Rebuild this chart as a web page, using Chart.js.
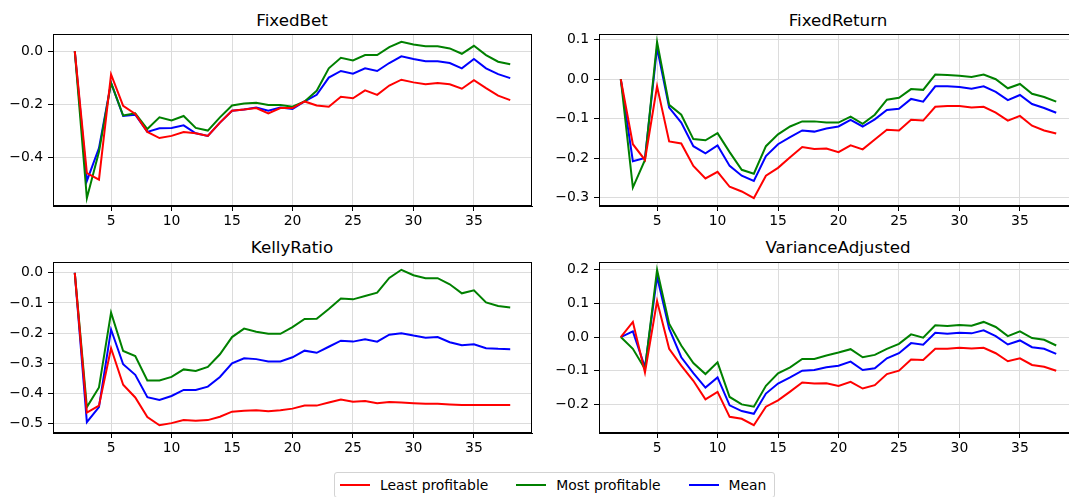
<!DOCTYPE html>
<html>
<head>
<meta charset="utf-8">
<script src="https://cdn.jsdelivr.net/npm/chart.js@4.4.1/dist/chart.umd.min.js"></script>
<style>
  html, body { margin: 0; padding: 0; background: #fff; }
  body { width: 1069px; height: 497px; overflow: hidden; position: relative; font-family: "DejaVu Sans", sans-serif; color: #000; }
  canvas { position: absolute; }
  .title { position: absolute; font-size: 16.7px; line-height: 20px; white-space: nowrap; transform: translateX(-50%); }
  #legend { position: absolute; left: 334px; top: 472px; width: 441px; height: 26px; border: 1px solid #d3d3d3; border-radius: 3px;
            display: flex; align-items: center; font-size: 13.9px; box-sizing: border-box; padding-left: 5px; }
  #legend .h { width: 30px; height: 2px; margin-right: 10px; }
  #legend .t { margin-right: 28px; white-space: nowrap; }
</style>
</head>
<body>
<div class="title" style="left:292px; top:10px;">FixedBet</div>
<div class="title" style="left:838px; top:10px;">FixedReturn</div>
<div class="title" style="left:292px; top:237px;">KellyRatio</div>
<div class="title" style="left:838px; top:237px;">VarianceAdjusted</div>

<canvas id="fixedBet"></canvas>
<canvas id="fixedReturn"></canvas>
<canvas id="kellyRatio"></canvas>
<canvas id="varianceAdjusted"></canvas>

<div id="legend">
  <span class="h" style="background:#ff0000"></span><span class="t">Least profitable</span>
  <span class="h" style="background:#008000"></span><span class="t">Most profitable</span>
  <span class="h" style="background:#0000ff"></span><span class="t" style="margin-right:0">Mean</span>
</div>

<script>
// === DATA ===
const steps = [2, 3, 4, 5, 6, 7, 8, 9, 10, 11, 12, 13, 14, 15, 16, 17, 18, 19, 20,
  21, 22, 23, 24, 25, 26, 27, 28, 29, 30, 31, 32, 33, 34, 35, 36, 37, 38];
const xTicks = [5, 10, 15, 20, 25, 30, 35];

const fixedBetLeast = [0, -0.46, -0.485, -0.088, -0.207, -0.237, -0.305, -0.328, -0.32, -0.305,
  -0.31, -0.32, -0.27, -0.225, -0.22, -0.215, -0.235, -0.215, -0.215, -0.19,
  -0.205, -0.21, -0.172, -0.178, -0.148, -0.165, -0.13, -0.108, -0.118, -0.125,
  -0.12, -0.125, -0.142, -0.11, -0.14, -0.168, -0.185];
const fixedBetMost = [0, -0.555, -0.38, -0.12, -0.243, -0.235, -0.294, -0.25, -0.262, -0.245,
  -0.29, -0.30, -0.25, -0.205, -0.198, -0.195, -0.203, -0.203, -0.21, -0.19,
  -0.15, -0.065, -0.025, -0.035, -0.015, -0.015, 0.015, 0.035, 0.025, 0.018,
  0.018, 0.01, -0.01, 0.02, -0.015, -0.04, -0.05];
const fixedBetMean = [0, -0.49, -0.366, -0.12, -0.245, -0.24, -0.305, -0.291, -0.29, -0.28,
  -0.31, -0.32, -0.27, -0.225, -0.22, -0.213, -0.225, -0.213, -0.218, -0.19,
  -0.165, -0.10, -0.075, -0.085, -0.065, -0.075, -0.045, -0.02, -0.03, -0.038,
  -0.038, -0.045, -0.065, -0.03, -0.065, -0.087, -0.102];
const fixedBetTicks = [-0.4, -0.2, 0.0];

const fixedReturnLeast = [0, -0.165, -0.205, -0.018, -0.158, -0.163, -0.22, -0.252, -0.235, -0.273,
  -0.285, -0.302, -0.245, -0.225, -0.198, -0.172, -0.177, -0.176, -0.185, -0.168,
  -0.178, -0.153, -0.128, -0.13, -0.103, -0.105, -0.07, -0.068, -0.068, -0.072,
  -0.07, -0.085, -0.105, -0.093, -0.118, -0.13, -0.138];
const fixedReturnMost = [0, -0.275, -0.205, 0.095, -0.065, -0.09, -0.152, -0.155, -0.137, -0.185,
  -0.23, -0.24, -0.17, -0.14, -0.12, -0.107, -0.107, -0.11, -0.11, -0.095,
  -0.113, -0.09, -0.052, -0.047, -0.025, -0.027, 0.012, 0.011, 0.009, 0.006,
  0.012, 0.0, -0.023, -0.012, -0.037, -0.045, -0.057];
const fixedReturnMean = [0, -0.208, -0.2, 0.08, -0.072, -0.11, -0.17, -0.188, -0.168, -0.22,
  -0.245, -0.258, -0.195, -0.165, -0.147, -0.13, -0.133, -0.125, -0.12, -0.103,
  -0.12, -0.102, -0.078, -0.075, -0.05, -0.057, -0.018, -0.018, -0.02, -0.024,
  -0.018, -0.032, -0.053, -0.04, -0.063, -0.073, -0.085];
const fixedReturnTicks = [-0.3, -0.2, -0.1, 0.0, 0.1];

const kellyLeast = [0, -0.463, -0.44, -0.25, -0.371, -0.413, -0.478, -0.505, -0.498, -0.488,
  -0.49, -0.488, -0.477, -0.46, -0.457, -0.455, -0.459, -0.455, -0.45, -0.44,
  -0.44, -0.43, -0.42, -0.427, -0.425, -0.432, -0.428, -0.43, -0.432, -0.434,
  -0.434, -0.436, -0.438, -0.438, -0.438, -0.438, -0.438];
const kellyMost = [0, -0.445, -0.38, -0.132, -0.259, -0.276, -0.357, -0.357, -0.345, -0.32,
  -0.325, -0.312, -0.27, -0.213, -0.185, -0.195, -0.202, -0.202, -0.18, -0.153,
  -0.152, -0.12, -0.085, -0.088, -0.077, -0.066, -0.017, 0.01, -0.008, -0.018,
  -0.018, -0.038, -0.068, -0.058, -0.098, -0.11, -0.115];
const kellyMean = [0, -0.495, -0.445, -0.188, -0.303, -0.338, -0.412, -0.421, -0.408, -0.388,
  -0.388, -0.377, -0.345, -0.3, -0.283, -0.286, -0.294, -0.294, -0.28, -0.258,
  -0.265, -0.245, -0.225, -0.228, -0.22, -0.228, -0.205, -0.2, -0.208, -0.215,
  -0.213, -0.23, -0.24, -0.237, -0.25, -0.252, -0.253];
const kellyTicks = [-0.5, -0.4, -0.3, -0.2, -0.1, 0.0];

const varianceLeast = [0, 0.045, -0.105, 0.107, -0.035, -0.085, -0.13, -0.185, -0.163, -0.237,
  -0.243, -0.262, -0.207, -0.188, -0.162, -0.135, -0.138, -0.137, -0.145, -0.133,
  -0.153, -0.143, -0.11, -0.1, -0.067, -0.068, -0.035, -0.035, -0.032, -0.034,
  -0.032, -0.048, -0.072, -0.063, -0.083, -0.088, -0.1];
const varianceMost = [0, -0.035, -0.095, 0.2, 0.04, -0.025, -0.077, -0.11, -0.075, -0.178,
  -0.2, -0.207, -0.145, -0.108, -0.09, -0.065, -0.065, -0.055, -0.046, -0.036,
  -0.06, -0.053, -0.035, -0.02, 0.008, -0.002, 0.035, 0.033, 0.036, 0.034,
  0.045, 0.03, 0.003, 0.017, -0.003, -0.008, -0.025];
const varianceMean = [0, 0.017, -0.09, 0.18, 0.025, -0.06, -0.107, -0.15, -0.12, -0.203,
  -0.22, -0.228, -0.168, -0.138, -0.12, -0.1, -0.098, -0.09, -0.085, -0.073,
  -0.098, -0.093, -0.063, -0.048, -0.018, -0.023, 0.013, 0.01, 0.013, 0.011,
  0.02, 0.003, -0.022, -0.01, -0.03, -0.035, -0.05];
const varianceTicks = [-0.2, -0.1, 0.0, 0.1, 0.2];

// === LAYOUT ===
const AXIS_W = 53, AXIS_H = 28, PAD_T = 14, PAD_R = 10;
const tickFont = { family: "DejaVu Sans", size: 13.9 };

// matplotlib-like 5% margins
function padRange(values) {
  const lo = Math.min(...values), hi = Math.max(...values);
  const m = (hi - lo) * 0.05;
  return [lo - m, hi + m];
}

// top/right spines
const frame = {
  id: "frame",
  afterDraw(chart) {
    const { ctx, chartArea: a } = chart;
    ctx.save();
    ctx.strokeStyle = "#000";
    ctx.lineWidth = 1;
    ctx.strokeRect(Math.round(a.left) + 0.5, Math.round(a.top) + 0.5, Math.round(a.width) - 1, Math.round(a.height) - 1);
    ctx.restore();
  }
};

function makePanel(id, box, least, most, mean, yTicks) {
  const canvas = document.getElementById(id);
  const w = AXIS_W + box.w + PAD_R, h = PAD_T + box.h + AXIS_H;
  canvas.width = w; canvas.height = h;
  canvas.style.left = (box.l - AXIS_W) + "px";
  canvas.style.top = (box.t - PAD_T) + "px";
  canvas.style.width = w + "px"; canvas.style.height = h + "px";

  const [xMin, xMax] = padRange(steps);
  const [yMin, yMax] = padRange([...least, ...most, ...mean]);
  const pts = arr => steps.map((x, i) => ({ x, y: arr[i] }));

  new Chart(canvas.getContext("2d"), {
    type: "line",
    data: {
      datasets: [
        { label: "Least profitable", data: pts(least), borderColor: "#ff0000" },
        { label: "Most profitable", data: pts(most), borderColor: "#008000" },
        { label: "Mean", data: pts(mean), borderColor: "#0000ff" }
      ]
    },
    options: {
      responsive: false,
      animation: false,
      devicePixelRatio: 1,
      layout: { padding: { top: PAD_T, right: PAD_R, left: 0, bottom: 0 } },
      elements: { line: { borderWidth: 2, tension: 0, fill: false }, point: { radius: 0 } },
      plugins: { legend: { display: false }, tooltip: { enabled: false } },
      scales: {
        x: {
          type: "linear", min: xMin, max: xMax,
          afterBuildTicks: s => { s.ticks = xTicks.map(v => ({ value: v })); },
          afterFit: s => { s.height = AXIS_H; },
          grid: { color: "#dcdcdc", tickColor: "#000", tickLength: 5 },
          border: { color: "#000" },
          ticks: { font: tickFont, color: "#000", padding: 2, maxRotation: 0, autoSkip: false, callback: v => String(v) }
        },
        y: {
          type: "linear", min: yMin, max: yMax,
          afterBuildTicks: s => { s.ticks = yTicks.map(v => ({ value: v })); },
          afterFit: s => { s.width = AXIS_W; },
          grid: { color: "#dcdcdc", tickColor: "#000", tickLength: 5 },
          border: { color: "#000" },
          ticks: { font: tickFont, color: "#000", padding: 5, autoSkip: false,
                   callback: v => v.toFixed(1).replace("-", "\u2212") }
        }
      }
    },
    plugins: [frame]
  });
}

makePanel("fixedBet", { l: 53, t: 34, w: 479, h: 172 }, fixedBetLeast, fixedBetMost, fixedBetMean, fixedBetTicks);
makePanel("fixedReturn", { l: 599, t: 34, w: 479, h: 172 }, fixedReturnLeast, fixedReturnMost, fixedReturnMean, fixedReturnTicks);
makePanel("kellyRatio", { l: 53, t: 262, w: 479, h: 171 }, kellyLeast, kellyMost, kellyMean, kellyTicks);
makePanel("varianceAdjusted", { l: 599, t: 262, w: 479, h: 171 }, varianceLeast, varianceMost, varianceMean, varianceTicks);
</script>
</body>
</html>
